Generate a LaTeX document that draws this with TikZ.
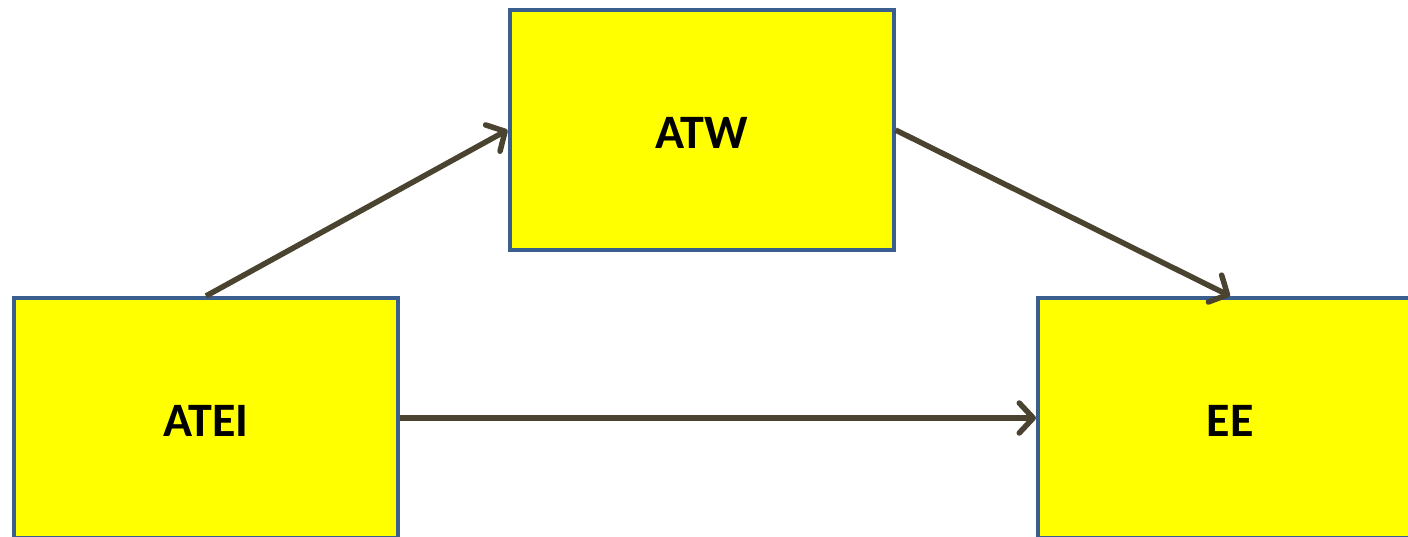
\documentclass[tikz,border=0pt]{standalone}
\usepackage{fontspec}
\setmainfont{Carlito}
\usetikzlibrary{arrows.meta}
\definecolor{boxfill}{HTML}{FFFF00}
\definecolor{boxline}{HTML}{3A5F8F}
\definecolor{linkcol}{HTML}{4A4330}
\tikzset{
  varbox/.style={draw=boxline, fill=boxfill, line width=4pt, rectangle,
    minimum width=384pt, minimum height=240pt, inner sep=0pt,
    font=\fontsize{48}{52}\selectfont\bfseries},
  link/.style={draw=linkcol, line width=5.5pt,
    -{Straight Barb[length=14pt, width=30pt, line cap=round, line join=round]}}
}
\newcommand{\lowered}[1]{\raisebox{-3pt}[\height][0pt]{#1}}
\begin{document}
\begin{tikzpicture}[x=1pt, y=-1pt]
  \useasboundingbox (0,0) rectangle (1408,537);
  \clip (0,0) rectangle (1408,537);
  \node[varbox] (atw)  at (701.5,130) {\lowered{ATW}};
  \node[varbox] (atei) at (206,418)   {\lowered{ATEI}};
  \node[varbox] (ee)   at (1230,418)  {\lowered{EE}};
  \draw[link] (atei.north) -- (atw.west);
  \draw[link] (atw.east) -- (ee.north);
  \draw[link] (atei.east) -- (ee.west);
\end{tikzpicture}
\end{document}
